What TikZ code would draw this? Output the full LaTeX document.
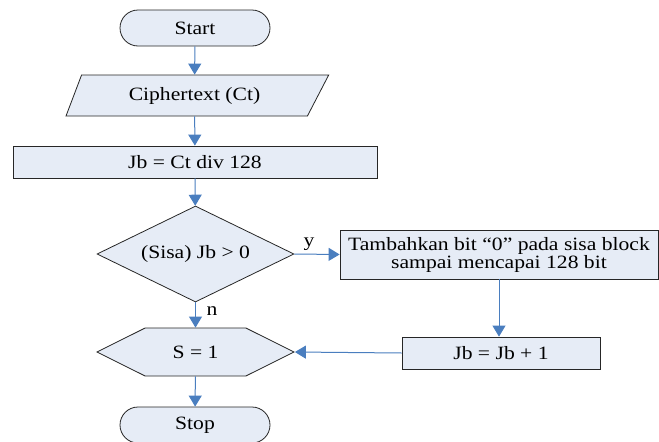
\documentclass[tikz,border=0pt]{standalone}
\usepackage{fontspec}
\setmainfont{Liberation Serif}[FakeStretch=1.15]
\usetikzlibrary{arrows.meta,shapes.geometric,shapes.misc,shapes.symbols}
\definecolor{boxfill}{HTML}{E6ECF6}
\definecolor{flowblue}{HTML}{4A7EBF}
\definecolor{edge}{HTML}{262626}
\tikzset{
  shapebase/.style={draw=edge, fill=boxfill, line width=0.8pt, inner sep=0pt, align=center,
    font=\fontsize{18.8}{15.5}\selectfont},
  terminal/.style={shapebase, rounded rectangle, minimum width=150pt, minimum height=36pt},
  process/.style={shapebase, rectangle},
  flow/.style={draw=flowblue, line width=1pt, -{Triangle[width=13pt,length=11pt]}},
  lbl/.style={font=\fontsize{18.8}{15.5}\selectfont, inner sep=0pt}
}
\begin{document}
\begin{tikzpicture}[x=1pt,y=-1pt]
\useasboundingbox (0,0) rectangle (659,442);

% nodes of the flow
\node[terminal] (start) at (195,28) {Start};
\node[shapebase, trapezium, trapezium left angle=62, trapezium right angle=126,
      trapezium stretches=true, minimum width=263pt, minimum height=41pt] (ct) at (194.5,95.5) {Ciphertext (Ct)};
\node[process, minimum width=364pt, minimum height=32pt] (jb) at (195,162) {Jb = Ct div 128};
\node[shapebase, diamond, aspect=2.05, minimum width=197pt, minimum height=96pt] (dec) at (195.5,254) {(Sisa) Jb > 0};
\node[process, minimum width=318pt, minimum height=49pt] (tam) at (499,254.5)
  {Tambahkan bit “0” pada sisa block\\sampai mencapai 128 bit};
\node[process, minimum width=198pt, minimum height=32pt] (inc) at (501,353) {Jb = Jb + 1};
\node[shapebase, signal, signal to=west and east, signal pointer angle=53,
      minimum width=197pt, minimum height=48pt] (s) at (195.5,352) {S = 1};
\node[terminal] (stop) at (195,425) {Stop};

% connectors
\draw[flow] (start) -- (ct);
\draw[flow] (ct) -- (jb);
\draw[flow] (jb) -- (dec);
\draw[flow] (dec.east) -- (tam.west);
\draw[flow] (tam.south) -- (tam.south |- inc.north);
\draw[flow] (inc.west) -- (s.east);
\draw[flow] (dec.south) -- (s.north);
\draw[flow] (s) -- (stop);

% branch labels
\node[lbl] (ylbl) at (309,244) {y};
\node[lbl] (nlbl) at (212,311) {n};
\end{tikzpicture}
\end{document}
